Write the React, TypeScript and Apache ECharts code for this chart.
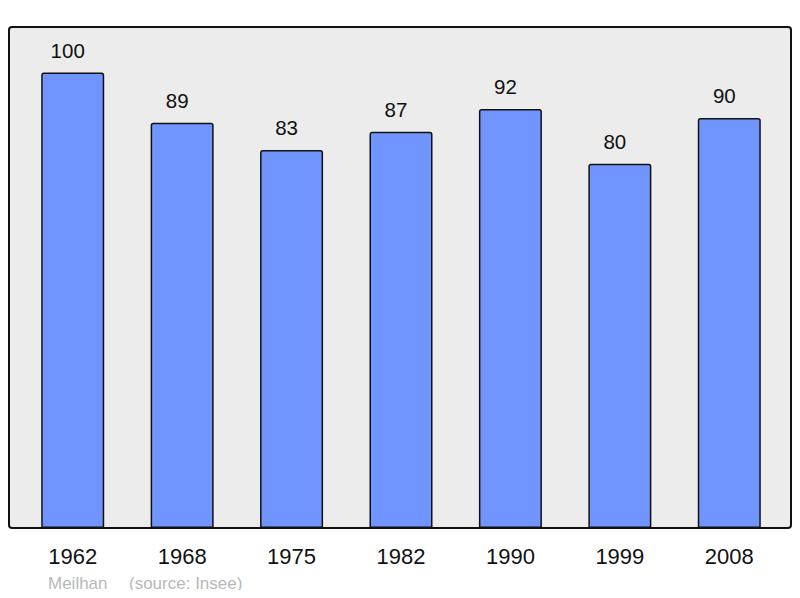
import React, { useEffect, useRef } from 'react';
import * as echarts from 'echarts';

const years = ['1962', '1968', '1975', '1982', '1990', '1999', '2008'];
const population = [100, 89, 83, 87, 92, 80, 90];
const townName = 'Meilhan';
const sourceText = '(source: Insee)';

const App: React.FC = () => {
    const chartRef = useRef<HTMLDivElement>(null);

    useEffect(() => {
        if (chartRef.current) {
            const chartInstance = echarts.init(chartRef.current, null, { renderer: 'svg' });

            const option = {
                animation: false,
                textStyle: {
                    fontFamily: 'Liberation Sans, Arial, sans-serif',
                },
                graphic: [
                    {
                        type: 'rect',
                        z: -10,
                        shape: { x: 9, y: 27, width: 782, height: 501, r: 3 },
                        style: { fill: '#ececec', stroke: '#111', lineWidth: 2 },
                    },
                    {
                        type: 'text',
                        left: 48,
                        top: 575,
                        style: {
                            text: townName,
                            fill: '#b8b8b8',
                            fontSize: 17,
                            fontFamily: 'Liberation Sans, Arial, sans-serif',
                        },
                    },
                    {
                        type: 'text',
                        left: 129,
                        top: 575,
                        style: {
                            text: sourceText,
                            fill: '#b8b8b8',
                            fontSize: 17,
                            fontFamily: 'Liberation Sans, Arial, sans-serif',
                        },
                    },
                ],
                grid: {
                    left: 18,
                    right: 16,
                    top: 27,
                    bottom: 70,
                    containLabel: false,
                },
                xAxis: {
                    type: 'category',
                    data: years,
                    axisLine: { show: false },
                    axisTick: { show: false },
                    axisLabel: {
                        margin: 17,
                        fontSize: 22,
                        color: '#111',
                    },
                },
                yAxis: {
                    type: 'value',
                    min: 0,
                    max: 110,
                    show: false,
                    splitLine: { show: false },
                },
                series: [
                    {
                        type: 'bar',
                        data: population,
                        barWidth: 63,
                        itemStyle: {
                            color: '#7095ff',
                            borderColor: '#111',
                            borderWidth: 1.5,
                            borderRadius: [2, 2, 0, 0],
                        },
                        label: {
                            show: true,
                            position: 'top',
                            distance: 12,
                            offset: [-5, 0],
                            fontSize: 20.5,
                            color: '#111',
                        },
                    },
                ],
            };

            chartInstance.setOption(option);

            return () => {
                chartInstance.dispose();
            };
        }
    }, []);

    return <div ref={chartRef} style={{ width: '800px', height: '598px', margin: '-8px' }} />;
};

export default App;
